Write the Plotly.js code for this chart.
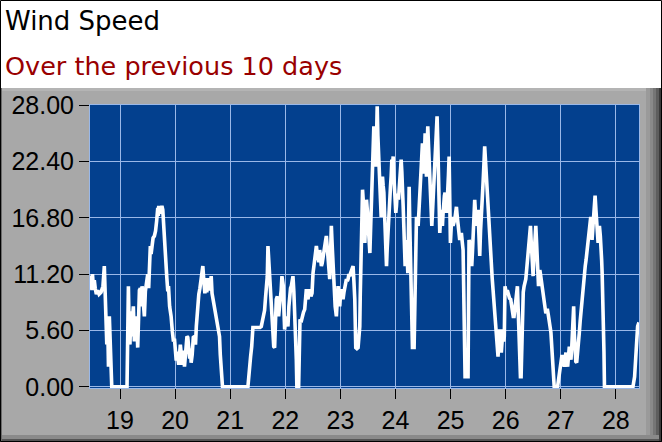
<!DOCTYPE html>
<html>
<head>
<meta charset="utf-8">
<script src="https://cdn.plot.ly/plotly-3.0.1.min.js"></script>
<style>
  html, body { margin: 0; padding: 0; background: #ffffff; }
  #myDiv { width: 662px; height: 442px; }
</style>
</head>
<body>
<div id="myDiv"></div>
<script>
// wind speed readings, time in days of the month
var days = [
  18.455, 18.473, 18.49, 18.5, 18.515, 18.533, 18.55, 18.57, 18.594, 18.62, 18.655, 18.69, 18.715, 18.73, 18.745, 18.76, 18.776, 18.79, 18.806, 18.82, 18.836, 18.85,
  19.127, 19.14, 19.152, 19.165, 19.18, 19.2, 19.215, 19.23, 19.242, 19.26, 19.275, 19.291, 19.305, 19.321, 19.335, 19.352, 19.37, 19.382, 19.4, 19.42, 19.442, 19.46, 19.473, 19.49,
  19.503, 19.52, 19.535, 19.55, 19.564, 19.58, 19.6, 19.624, 19.645, 19.665, 19.685, 19.695, 19.703, 19.72, 19.735, 19.745, 19.76, 19.776, 19.79, 19.806, 19.82, 19.835, 19.85, 19.867,
  19.88, 19.9, 19.927, 19.95, 19.97, 19.988, 20.005, 20.02, 20.035, 20.048, 20.065, 20.08, 20.095, 20.109, 20.125, 20.14, 20.155, 20.17, 20.185, 20.2, 20.215, 20.23, 20.25, 20.265,
  20.28, 20.291, 20.31, 20.33, 20.352, 20.37, 20.385, 20.4, 20.412, 20.43, 20.45, 20.47, 20.49, 20.503, 20.52, 20.54, 20.56, 20.575, 20.594, 20.61, 20.63, 20.655, 20.67, 20.69,
  20.71, 20.73, 20.745, 20.765, 20.785, 20.806, 20.82, 20.84, 20.86,
  21.321, 21.333, 21.35, 21.37, 21.39, 21.4, 21.412, 21.45, 21.5, 21.54, 21.564, 21.58, 21.6, 21.624, 21.64, 21.655, 21.673, 21.685, 21.7, 21.715, 21.73, 21.745, 21.76, 21.776,
  21.79, 21.806, 21.82, 21.836, 21.855, 21.865, 21.879, 21.895, 21.915, 21.925, 21.939, 21.95, 21.964, 21.976, 21.988, 22.0, 22.018, 22.033, 22.048, 22.065, 22.079, 22.095, 22.109,
  22.125, 22.139, 22.155, 22.17, 22.185, 22.2, 22.21, 22.242, 22.255, 22.267, 22.285, 22.303, 22.33, 22.352, 22.367, 22.382, 22.397, 22.412, 22.427, 22.442, 22.465, 22.485, 22.503,
  22.518, 22.533, 22.548, 22.564, 22.58, 22.594, 22.61, 22.624, 22.64, 22.655, 22.67, 22.685, 22.7, 22.715, 22.73, 22.745, 22.76, 22.776, 22.79, 22.806, 22.82, 22.836, 22.845,
  22.855, 22.87, 22.885, 22.905, 22.927, 22.94, 22.958, 22.97, 22.988, 23.0, 23.018, 23.033, 23.048, 23.065, 23.079, 23.095, 23.109, 23.125, 23.139, 23.155, 23.17, 23.185, 23.2,
  23.215, 23.23, 23.245, 23.261, 23.279, 23.3, 23.321, 23.335, 23.352, 23.36, 23.372, 23.385, 23.402, 23.414, 23.426, 23.444, 23.46, 23.474, 23.49, 23.505, 23.52, 23.535, 23.55,
  23.565, 23.583, 23.595, 23.607, 23.625, 23.643, 23.655, 23.668, 23.68, 23.692, 23.705, 23.716, 23.728, 23.74, 23.752, 23.764, 23.776, 23.789, 23.8, 23.813, 23.825, 23.837, 23.85,
  23.861, 23.873, 23.885, 23.897, 23.909, 23.922, 23.934, 23.946, 23.958, 23.97, 23.982, 23.994, 24.006, 24.018, 24.03, 24.042, 24.054, 24.066, 24.079, 24.091, 24.103, 24.115,
  24.127, 24.139, 24.151, 24.163, 24.175, 24.187, 24.199, 24.212, 24.224, 24.236, 24.248, 24.26, 24.272, 24.281, 24.29, 24.3, 24.308, 24.338, 24.347, 24.356, 24.368, 24.381,
  24.396, 24.411, 24.426, 24.441, 24.453, 24.465, 24.477, 24.489, 24.5, 24.514, 24.526, 24.538, 24.55, 24.562, 24.574, 24.586, 24.598, 24.61, 24.622, 24.634, 24.646, 24.659,
  24.671, 24.683, 24.695, 24.707, 24.719, 24.731, 24.743, 24.755, 24.767, 24.779, 24.79, 24.804, 24.816, 24.828, 24.84, 24.852, 24.864, 24.876, 24.888, 24.9, 24.912, 24.924,
  24.937, 24.949, 24.961, 24.973, 24.985, 24.997, 25.009, 25.021, 25.033, 25.045, 25.06, 25.076, 25.09, 25.106, 25.12, 25.136, 25.15, 25.166, 25.18, 25.196, 25.21, 25.227,
  25.236, 25.245, 25.254, 25.263, 25.29, 25.317, 25.326, 25.335, 25.348, 25.36, 25.372, 25.384, 25.396, 25.408, 25.423, 25.438, 25.453, 25.468, 25.483, 25.498, 25.513, 25.529,
  25.544, 25.559, 25.574, 25.589, 25.604, 25.619, 25.635, 25.65, 25.665, 25.68, 25.695, 25.71, 25.725, 25.74, 25.755, 25.77, 25.785, 25.801, 25.816, 25.831, 25.846, 25.861,
  25.876, 25.891, 25.906, 25.921, 25.936, 25.952, 25.965, 25.975, 25.988, 26.0, 26.012, 26.03, 26.049, 26.07, 26.091, 26.105, 26.122, 26.137, 26.152, 26.167, 26.182, 26.198,
  26.213, 26.222, 26.231, 26.243, 26.255, 26.268, 26.28, 26.292, 26.304, 26.319, 26.334, 26.35, 26.365, 26.38, 26.395, 26.41, 26.426, 26.438, 26.45, 26.462, 26.474, 26.486,
  26.498, 26.51, 26.523, 26.535, 26.547, 26.559, 26.571, 26.584, 26.596, 26.608, 26.62, 26.632, 26.644, 26.656, 26.669, 26.684, 26.699, 26.714, 26.729, 26.745, 26.76, 26.775,
  26.79, 26.805, 26.821, 26.836, 26.851, 26.866, 26.881, 26.942, 26.957, 26.973, 26.988, 27.003, 27.018, 27.033, 27.048, 27.064, 27.079, 27.094, 27.11, 27.125, 27.14, 27.155,
  27.17, 27.185, 27.2, 27.216, 27.225, 27.234, 27.246, 27.258, 27.273, 27.289, 27.301, 27.313, 27.325, 27.337, 27.352, 27.368, 27.383, 27.398, 27.414, 27.429, 27.444, 27.459,
  27.474, 27.489, 27.505, 27.52, 27.532, 27.544, 27.556, 27.568, 27.58, 27.593, 27.608, 27.623, 27.638, 27.653, 27.665, 27.678, 27.69, 27.702, 27.718, 27.733, 27.742, 27.751,
  27.763, 27.775, 27.784, 27.793, 28.31, 28.34, 28.371, 28.395, 28.42
];
var speeds = [
  10.6, 11.0, 9.6, 11.2, 10.0, 10.6, 9.8, 9.2, 9.6, 9.2, 9.4, 10.0, 12.0, 9.5, 6.5, 4.2, 6.5, 2.0, 7.0, 3.5, 1.5, 0,
  0, 5.0, 10.0, 6.0, 4.2, 7.5, 5.0, 7.0, 8.0, 4.5, 7.0, 5.0, 6.5, 3.9, 7.0, 9.6, 9.8, 8.0, 10.0, 8.4, 7.0, 9.5, 10.2, 10.5,
  11.2, 9.8, 12.5, 14.0, 13.2, 14.4, 14.8, 15.0, 15.5, 16.5, 17.8, 17.0, 18.0, 17.2, 17.8, 17.2, 18.0, 17.6, 16.0, 14.5, 13.3, 11.5, 10.8, 9.5,
  10.0, 8.0, 7.0, 5.5, 4.5, 4.8, 3.8, 2.6, 3.5, 2.4, 2.2, 3.2, 4.2, 3.4, 2.2, 2.6, 3.6, 2.0, 3.0, 4.5, 5.0, 4.9, 3.0, 2.8,
  3.8, 2.4, 3.2, 4.9, 5.0, 4.2, 6.0, 7.2, 8.7, 9.2, 9.8, 10.5, 11.0, 12.0, 10.6, 9.3, 10.8, 9.4, 10.8, 9.6, 10.0, 11.0, 9.3, 8.6,
  8.0, 7.6, 7.2, 6.2, 5.6, 5.0, 3.2, 1.0, 0,
  0, 1.0, 2.5, 3.0, 4.0, 5.0, 5.9, 5.9, 5.9, 5.9, 6.0, 6.5, 7.0, 7.6, 8.8, 9.8, 11.0, 14.0, 12.5, 11.0, 9.3, 8.0, 6.5, 5.4,
  4.0, 3.9, 6.0, 8.7, 9.0, 7.5, 7.0, 8.0, 8.7, 9.6, 11.0, 10.2, 10.0, 7.5, 5.7, 6.4, 7.0, 6.4, 6.0, 8.0, 9.7, 9.8, 10.0,
  10.6, 11.0, 9.5, 8.0, 5.0, 2.7, 0, 0, 3.5, 6.7, 6.4, 7.0, 7.4, 7.7, 8.8, 9.7, 9.0, 8.7, 9.3, 9.7, 9.0, 9.3, 11.3,
  12.0, 13.0, 13.6, 14.0, 13.2, 12.6, 12.4, 13.6, 12.8, 12.0, 12.3, 13.0, 13.8, 14.0, 14.5, 15.0, 13.8, 12.3, 11.0, 10.7, 13.0, 16.0, 14.8,
  13.6, 11.5, 9.3, 8.0, 7.0, 8.5, 10.0, 9.0, 8.0, 9.0, 9.7, 9.2, 8.7, 9.4, 10.0, 10.4, 10.7, 10.5, 10.7, 11.2, 11.0, 11.3, 11.6,
  11.8, 12.0, 10.5, 8.7, 3.9, 3.8, 3.9, 5.0, 6.0, 9.0, 12.5, 17.3, 19.6, 18.6, 17.0, 14.3, 17.0, 18.6, 17.5, 16.0, 14.5, 13.3, 16.0,
  18.6, 23.6, 24.5, 25.9, 23.5, 21.9, 24.5, 27.9, 25.0, 22.9, 21.0, 19.9, 18.0, 16.9, 18.8, 20.9, 20.0, 19.3, 17.5, 16.0, 14.0, 12.0, 13.8,
  15.3, 17.0, 18.6, 19.5, 19.9, 21.0, 22.6, 22.0, 22.9, 21.0, 19.3, 18.0, 17.3, 18.0, 19.2, 18.9, 18.6, 19.5, 20.2, 21.2, 22.6, 21.4,
  20.2, 18.0, 16.0, 14.0, 12.0, 13.5, 14.6, 13.0, 11.3, 15.5, 19.9, 16.0, 12.0, 10.0, 8.0, 5.5, 3.9, 3.9, 7.0, 10.7, 13.5, 16.9,
  16.4, 16.0, 17.5, 19.0, 21.0, 22.6, 23.5, 24.2, 22.8, 21.2, 23.0, 25.2, 23.0, 20.9, 23.5, 25.9, 24.2, 22.6, 20.5, 18.6, 17.3, 16.0,
  17.3, 18.6, 20.2, 21.9, 23.2, 24.6, 25.8, 26.9, 24.5, 21.9, 18.5, 15.3, 16.5, 17.6, 16.8, 16.0, 17.3, 18.6, 19.0, 19.3, 18.3, 17.3,
  18.2, 19.2, 21.0, 22.9, 18.5, 14.3, 15.6, 16.9, 16.4, 16.0, 16.3, 16.6, 17.2, 17.9, 17.0, 16.3, 15.4, 14.6, 15.0, 15.3, 14.5, 13.6,
  10.5, 7.3, 4.0, 1.0, 1.0, 1.0, 8.0, 14.6, 14.3, 14.0, 13.0, 12.0, 13.3, 14.6, 16.5, 18.6, 17.2, 16.0, 16.8, 17.6, 15.3, 13.0,
  15.5, 17.9, 19.0, 20.2, 22.0, 23.9, 22.4, 20.9, 18.8, 16.9, 15.6, 14.3, 13.2, 12.0, 10.8, 9.7, 8.5, 7.3, 6.3, 5.4, 4.2, 3.0,
  4.5, 5.7, 4.5, 3.4, 4.6, 5.7, 4.5, 5.0, 10.0, 9.6, 9.3, 9.6, 9.0, 8.8, 8.7, 8.0, 7.3, 7.0, 7.0, 8.0, 8.7, 9.4,
  10.0, 8.5, 7.0, 4.5, 2.0, 1.0, 1.0, 5.0, 8.7, 9.4, 10.0, 10.3, 10.7, 11.6, 12.6, 13.1, 13.6, 14.8, 16.0, 14.6, 13.3, 12.2,
  11.0, 12.5, 14.0, 15.0, 16.0, 14.6, 13.3, 11.6, 10.0, 10.8, 11.6, 11.2, 10.7, 10.3, 10.0, 9.4, 8.7, 8.0, 7.3, 7.6, 7.6, 7.1,
  6.7, 6.0, 5.4, 4.0, 2.7, 1.2, 0, 0, 0.7, 1.4, 2.0, 2.7, 3.0, 3.0, 2.4, 2.0, 2.8, 3.4, 2.6, 2.0, 3.0, 4.0,
  3.3, 2.7, 4.0, 5.4, 6.8, 8.0, 5.3, 2.7, 2.5, 2.4, 3.0, 3.4, 4.4, 5.4, 6.5, 7.6, 8.5, 9.3, 10.3, 11.3, 12.0, 12.6,
  13.5, 14.3, 15.2, 16.0, 16.5, 16.9, 15.8, 14.6, 15.6, 16.6, 17.8, 19.0, 17.6, 16.3, 15.3, 14.3, 15.2, 16.0, 15.0, 14.0, 12.6, 11.3,
  9.0, 7.0, 3.5, 0, 0, 1.0, 4.7, 6.0, 6.4
];
var dayTicks = [19, 20, 21, 22, 23, 24, 25, 26, 27, 28];
var speedTicks = [0, 5.6, 11.2, 16.8, 22.4, 28];

var W = 662, H = 442;
var M = { l: 90, r: 23, t: 105, b: 54 };
var pw = W - M.l - M.r, ph = H - M.t - M.b;

// pixel -> paper coords
function px(x) { return (x - M.l) / pw; }
function py(y) { return (H - M.b - y) / ph; }

function band(x0, y0, x1, y1, color) {
  return {
    type: "rect", xref: "paper", yref: "paper", layer: "below",
    x0: px(x0), x1: px(x1), y0: py(y1), y1: py(y0),
    line: { width: 0 }, fillcolor: color
  };
}

var shapes = [
  band(0, 0, W, 88, "#ffffff"),
  band(0, 88, W, 91, "#b4b4b4"),
  // right bevel
  band(646, 88, 650, H, "#9a9a9a"),
  band(650, 88, 653, H, "#8a8a8a"),
  band(653, 88, 656, H, "#767676"),
  band(656, 88, 659, H, "#5e5e5e"),
  band(659, 88, W, H, "#3a3a3a"),
  // bottom bevel
  band(0, 435, 659, 439, "#8a8a8a"),
  band(0, 439, 659, H, "#555555"),
  // left edge
  band(0, 88, 2, H, "#6a6a6a"),
  // outer frame
  {
    type: "rect", xref: "paper", yref: "paper", layer: "above",
    x0: px(0.5), x1: px(W - 0.5), y0: py(H - 0.5), y1: py(0.5),
    line: { width: 1, color: "#000000" }
  }
];

var trace1 = {
  x: days,
  y: speeds,
  type: "scatter",
  mode: "lines",
  line: { color: "#ffffff", width: 3.6 },
  hoverinfo: "none"
};

var gridCol = "#9ab8e8";
var tickFont = { family: "Liberation Sans, Arial, sans-serif", size: 25, color: "#000000" };

var layout = {
  width: W,
  height: H,
  margin: M,
  paper_bgcolor: "#a8a8a8",
  plot_bgcolor: "#03408e",
  showlegend: false,
  font: { family: "Liberation Sans, Arial, sans-serif", size: 24, color: "#000000" },
  xaxis: {
    range: [18.455, 28.42],
    tickvals: dayTicks,
    tickfont: tickFont,
    ticks: "outside",
    ticklen: 10,
    tickcolor: "#000000",
    showgrid: true,
    gridcolor: gridCol,
    gridwidth: 1,
    zeroline: false,
    showline: true,
    linecolor: gridCol,
    mirror: true,
    fixedrange: true
  },
  yaxis: {
    range: [-0.12, 28.02],
    tickvals: speedTicks,
    tickformat: ".2f",
    tickfont: tickFont,
    ticks: "outside",
    ticklen: 10,
    tickcolor: "#000000",
    showgrid: true,
    gridcolor: gridCol,
    gridwidth: 1,
    zeroline: false,
    showline: true,
    linecolor: gridCol,
    mirror: true,
    fixedrange: true
  },
  shapes: shapes,
  annotations: [
    {
      text: "Wind Speed", xref: "paper", yref: "paper",
      x: px(3), y: py(21), xanchor: "left", yanchor: "middle", showarrow: false,
      font: { family: "DejaVu Sans", size: 26, color: "#000000" }
    },
    {
      text: "Over the previous 10 days", xref: "paper", yref: "paper",
      x: px(3), y: py(66), xanchor: "left", yanchor: "middle", showarrow: false,
      font: { family: "DejaVu Sans", size: 25.5, color: "#990000" }
    }
  ]
};

Plotly.newPlot("myDiv", [trace1], layout, { staticPlot: true, displayModeBar: false });
</script>
</body>
</html>
